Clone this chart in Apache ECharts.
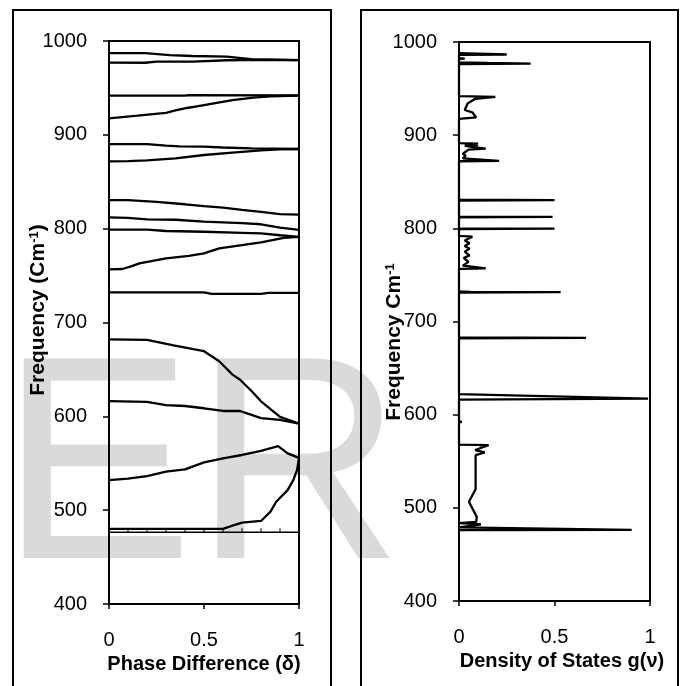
<!DOCTYPE html>
<html><head><meta charset="utf-8">
<script src="https://cdn.jsdelivr.net/npm/echarts@6/dist/echarts.min.js"></script>
<style>html,body{margin:0;padding:0;background:#fff}#c{width:680px;height:686px}</style>
</head><body><div id="c"></div>
<script>
const FONT = '"Liberation Sans", Arial, Helvetica, sans-serif';
const freqTicks = [400, 500, 600, 700, 800, 900, 1000];
const phaseTicks = [0, 0.5, 1];
const dosTicks = [0, 0.5, 1];

// Dispersion branches: [phase difference δ, frequency cm^-1]
const bandA = [[0,987],[0.19,987],[0.32,985],[0.44,984],[0.62,983.3],[0.76,980.5],[1,979.7]];
const bandB = [[0,977],[0.19,976.8],[0.25,978],[0.44,978],[0.62,979.5],[0.8,980],[1,979.7]];
const bandC = [[0,941.7],[0.4,941.7],[0.42,942.3],[1,942]];
const bandD = [[0,917.6],[0.15,920.5],[0.3,923.5],[0.35,926],[0.41,928.6],[0.47,930.6],[0.56,933.9],[0.65,937],[0.76,939.6],[0.85,941],[1,941.7]];
const bandE = [[0,890],[0.2,890],[0.3,888.5],[0.37,887.8],[0.5,887.5],[0.6,886.5],[0.75,885.5],[1,884.9]];
const bandF = [[0,871.8],[0.1,872],[0.2,872.8],[0.35,875],[0.5,878.5],[0.65,881],[0.8,883.5],[0.9,884.5],[1,884.9]];
const bandG = [[0,830.5],[0.1,830.5],[0.25,828.5],[0.4,826],[0.5,824],[0.6,822.5],[0.7,820],[0.8,818],[0.9,815.5],[1,815]];
const bandH = [[0,812],[0.1,811.5],[0.2,810],[0.35,809.5],[0.5,807.5],[0.7,806],[0.8,804.7],[0.9,801],[1,798.8]];
const bandI = [[0,799],[0.2,799],[0.3,797.5],[0.5,796.7],[0.7,795.5],[0.8,794.9],[0.9,793],[1,791.3]];
const bandJ = [[0,756.6],[0.07,757],[0.12,760],[0.16,763],[0.3,768.3],[0.42,771],[0.5,773.6],[0.58,779],[0.7,782.5],[0.8,785.5],[0.92,790.3],[1,791.3]];
const bandK = [[0,732],[0.5,732],[0.54,730.5],[0.8,730.5],[0.84,731.5],[1,731.5]];
const bandL = [[0,682],[0.2,681.5],[0.34,675.5],[0.5,669.4],[0.58,658.7],[0.65,644.5],[0.69,639],[0.75,627],[0.8,616],[0.9,599.4],[1,592.3]];
const bandM = [[0,616.2],[0.2,615.5],[0.3,612],[0.4,611],[0.5,608.6],[0.6,605.7],[0.69,605.7],[0.75,601.5],[0.8,598],[0.9,596.2],[1,592.3]];
const bandN = [[0,532],[0.1,533.7],[0.2,536.3],[0.3,541],[0.4,543.5],[0.5,551],[0.6,555.3],[0.7,558.8],[0.8,563.3],[0.89,568.3],[0.94,560.5],[1,555.8]];
const bandO = [[0,480],[0.6,480],[0.65,483.5],[0.7,486.7],[0.8,488.5],[0.85,498.4],[0.88,509],[0.94,521.3],[0.97,532],[0.99,543],[1,555.8]];
const bandP = [[0,476.5],[0.1,476.5],[0.2,476.5],[0.3,476.5],[0.4,476.5],[0.5,476.5],[0.6,476.5],[0.7,476.5],[0.8,476.5],[0.9,476.5],[1,476.5]];

// Density of states curve: [g(ν), frequency cm^-1]
const dosCurve = [
  [0,988],[0.25,986.6],[0,986.3],
  [0,982.6],[0.03,982.2],[0,981.8],
  [0,978],[0.15,977.5],[0.375,976.8],[0,976.4],
  [0,942],[0.19,941],[0.085,939],[0.045,934],[0.03,927],[0.07,924.5],[0.09,919],[0.08,917.8],[0,917.5],
  [0,891.5],[0.1,891],[0.03,890.2],[0.1,889.5],[0.03,888.5],[0.14,885.6],[0.05,884.5],[0.02,880],[0.035,878],[0.02,875],[0.21,872.3],[0,872],
  [0,830.7],[0.5,830.2],[0,829.8],
  [0,812.6],[0.49,812.2],[0,811.8],
  [0,800],[0.5,799.6],[0,799.2],
  [0,792],[0.07,791],[0.065,789],[0.03,787],[0.055,784],[0.03,781],[0.055,778],[0.03,775],[0.055,771],[0.025,768],[0.05,764],[0.02,760],[0.14,757],[0,756.5],
  [0,732.3],[0.06,731.9],[0.532,731.5],[0,731.1],
  [0,682.8],[0.665,682.4],[0,682],
  [0,622],[0.99,617.2],[0.995,616.6],[0,616.2],
  [0,592.8],[0.015,592.3],[0,591.8],
  [0,567.8],[0.155,567.3],[0.11,564],[0.085,562],[0.135,559.5],[0.087,556.5],[0.087,520],[0.052,506.5],[0.093,490.3],[0.09,485],[0,483.5],[0.115,482.3],[0,479],[0.904,476.4],[0,476]
];

const bands = [bandA,bandB,bandC,bandD,bandE,bandF,bandG,bandH,bandI,bandJ,bandK,bandL,bandM,bandN,bandO];

const chart = echarts.init(document.getElementById('c'), null, {renderer:'canvas'});

function yAxisCfg(gridIndex){
  return {
    type:'value', gridIndex, min:freqTicks[0], max:freqTicks[freqTicks.length-1], interval:100,
    axisLine:{show:true, lineStyle:{color:'#000', width:2}},
    axisTick:{show:true, inside:false, length:6, lineStyle:{color:'#000', width:1.5}},
    axisLabel:{show:true, margin:22, color:'#000', fontSize:20, fontFamily:FONT,
      formatter:v => freqTicks.includes(v) ? String(v) : ''},
    splitLine:{show:false}
  };
}
function xAxisCfg(gridIndex, ticks){
  return {
    type:'value', gridIndex, min:ticks[0], max:ticks[ticks.length-1], interval:0.5,
    axisLine:{show:true, onZero:false, lineStyle:{color:'#000', width:2}},
    axisTick:{show:true, inside:false, length:5, lineStyle:{color:'#000', width:1.5}},
    axisLabel:{show:true, margin:26, color:'#000', fontSize:20, fontFamily:FONT,
      formatter:v => String(v)},
    splitLine:{show:false}
  };
}

const series = bands.map(b => ({
  type:'line', xAxisIndex:0, yAxisIndex:0, data:b, showSymbol:false, symbol:'none',
  lineStyle:{color:'#000', width:2.3}, silent:true, animation:false, z:3
}));
series.push({
  type:'line', xAxisIndex:0, yAxisIndex:0, data:bandP, symbol:'rect', symbolSize:[1,4], symbolOffset:[0,-2],
  showSymbol:true, itemStyle:{color:'#000'},
  lineStyle:{color:'#000', width:1.5}, silent:true, animation:false, z:3
});
series.push({
  type:'line', xAxisIndex:1, yAxisIndex:1, data:dosCurve, showSymbol:false, symbol:'none',
  lineStyle:{color:'#000', width:2.3}, silent:true, animation:false, z:3
});

chart.setOption({
  animation:false,
  backgroundColor:'#fff',
  grid:[
    {left:109, top:41, width:190, height:563, show:true, borderColor:'#000', borderWidth:2, backgroundColor:'transparent'},
    {left:459, top:42, width:191, height:559, show:true, borderColor:'#000', borderWidth:2, backgroundColor:'transparent'}
  ],
  xAxis:[xAxisCfg(0, phaseTicks), xAxisCfg(1, dosTicks)],
  yAxis:[yAxisCfg(0), yAxisCfg(1)],
  graphic:[
    {type:'text', z:-10, zlevel:0, x:0, y:478, silent:true,
      style:{text:'ER', font:'290px ' + FONT, fill:'#dadada', align:'left', verticalAlign:'middle'}},
    {type:'rect', z:100, silent:true, shape:{x:13, y:10, width:318, height:700},
      style:{fill:'none', stroke:'#000', lineWidth:2}},
    {type:'rect', z:100, silent:true, shape:{x:361, y:10, width:317, height:700},
      style:{fill:'none', stroke:'#000', lineWidth:2}},
    {type:'text', z:100, x:38, y:310, rotation:Math.PI/2, silent:true,
      style:{text:'{a|Frequency (Cm}{s|-1}{a|)}', align:'center', verticalAlign:'middle',
        rich:{a:{font:'bold 21px ' + FONT, fill:'#000'}, s:{font:'bold 13px ' + FONT, fill:'#000', verticalAlign:'top'}}}},
    {type:'text', z:100, x:394, y:342, rotation:Math.PI/2, silent:true,
      style:{text:'{a|Frequency Cm}{s|-1}', align:'center', verticalAlign:'middle',
        rich:{a:{font:'bold 21px ' + FONT, fill:'#000'}, s:{font:'bold 13px ' + FONT, fill:'#000', verticalAlign:'top'}}}},
    {type:'text', z:100, x:204, y:664, silent:true,
      style:{text:'Phase Difference (δ)', font:'bold 20px ' + FONT, fill:'#000', align:'center', verticalAlign:'middle'}},
    {type:'text', z:100, x:562, y:661, silent:true,
      style:{text:'Density of States g(ν)', font:'bold 20px ' + FONT, fill:'#000', align:'center', verticalAlign:'middle'}}
  ],
  series
});
</script>
</body></html>
